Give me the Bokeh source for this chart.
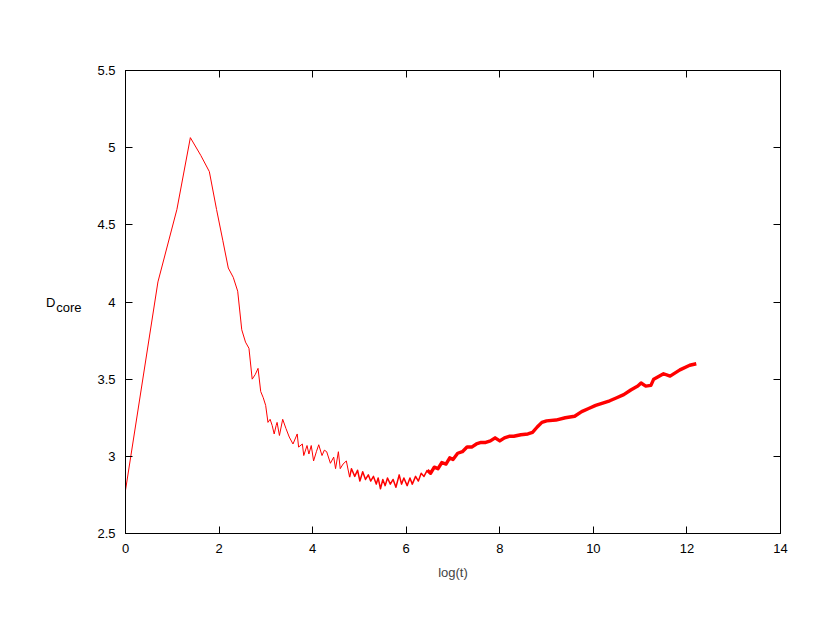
from bokeh.plotting import figure
from bokeh.models import LinearAxis, FixedTicker, Range1d, ColumnDataSource
from bokeh.embed import file_html
from bokeh.resources import INLINE

# log(t) values and D_core values
log_t = [0.0, 0.693, 1.099, 1.386, 1.609, 1.792, 1.946, 2.079, 2.197, 2.303,
         2.398, 2.485, 2.565, 2.639, 2.708, 2.773, 2.833, 2.890, 2.944, 2.996,
         3.045, 3.091, 3.135, 3.178, 3.22, 3.24, 3.29, 3.36, 3.43, 3.50,
         3.58, 3.67, 3.70, 3.78, 3.81, 3.88, 3.92, 3.97, 4.02, 4.08,
         4.13, 4.20, 4.25, 4.30, 4.38, 4.45, 4.49, 4.55, 4.59, 4.65,
         4.72, 4.79, 4.83, 4.90, 4.96, 5.01, 5.07, 5.13, 5.19, 5.24,
         5.30, 5.36, 5.40, 5.45, 5.50, 5.55, 5.60, 5.66, 5.72, 5.78,
         5.85, 5.90, 5.95, 6.02, 6.08, 6.13, 6.20, 6.26, 6.32, 6.38,
         6.45, 6.52, 6.60, 6.68, 6.76, 6.85, 6.93, 7.00, 7.10, 7.20,
         7.30, 7.40, 7.50, 7.60, 7.70, 7.80, 7.90, 8.00, 8.10, 8.20,
         8.30, 8.45, 8.60, 8.70, 8.80, 8.90, 9.00, 9.20, 9.40, 9.60,
         9.75, 9.90, 10.05, 10.20, 10.35, 10.50, 10.65, 10.80, 10.95, 11.02,
         11.12, 11.23, 11.29, 11.50, 11.64, 11.85, 12.06, 12.20]
d_core = [2.78, 4.13, 4.60, 5.065, 4.95, 4.845, 4.60, 4.40, 4.22, 4.16,
          4.07, 3.82, 3.74, 3.70, 3.50, 3.53, 3.57, 3.42, 3.38, 3.33,
          3.22, 3.24, 3.20, 3.145, 3.20, 3.22, 3.135, 3.24, 3.18, 3.125,
          3.08, 3.145, 3.06, 3.08, 3.005, 3.07, 3.015, 3.07, 2.97, 3.03,
          3.075, 3.005, 3.04, 3.03, 2.955, 2.995, 2.92, 3.03, 2.92, 2.95,
          2.97, 2.865, 2.92, 2.87, 2.91, 2.84, 2.90, 2.85, 2.88, 2.84,
          2.87, 2.82, 2.86, 2.79, 2.85, 2.81, 2.86, 2.82, 2.85, 2.80,
          2.88, 2.82, 2.86, 2.81, 2.86, 2.82, 2.87, 2.84, 2.89, 2.87,
          2.91, 2.89, 2.93, 2.92, 2.96, 2.95, 2.99, 2.98, 3.02, 3.03,
          3.06, 3.06, 3.08, 3.09, 3.09, 3.10, 3.12, 3.10, 3.12, 3.13,
          3.13, 3.14, 3.145, 3.155, 3.19, 3.22, 3.23, 3.235, 3.25, 3.26,
          3.29, 3.31, 3.33, 3.345, 3.36, 3.38, 3.40, 3.43, 3.455, 3.475,
          3.455, 3.46, 3.50, 3.535, 3.52, 3.56, 3.59, 3.60]

x_ticks = [0, 2, 4, 6, 8, 10, 12, 14]
y_ticks = [2.5, 3, 3.5, 4, 4.5, 5, 5.5]
y_tick_labels = ["2.5", "3", "3.5", "4", "4.5", "5", "5.5"]
y_title_main = "D"
y_title_sub = "core"

FONT = "Liberation Sans"

p = figure(frame_width=655, frame_height=463,
           x_range=Range1d(0, 14), y_range=Range1d(2.5, 5.5),
           output_backend="svg", toolbar_location=None,
           x_axis_location=None, y_axis_location=None,
           min_border_left=125, min_border_right=40,
           min_border_top=70, min_border_bottom=100)
p.xgrid.visible = False
p.ygrid.visible = False
p.outline_line_color = "black"
p.outline_line_width = 1
p.background_fill_color = "white"
p.border_fill_color = "white"

# Segments of increasing density drawn with increasing width
i1 = next(i for i, v in enumerate(log_t) if v >= 4.79)
i2 = next(i for i, v in enumerate(log_t) if v >= 6.45)
xs = [log_t[:i1 + 1], log_t[i1:i2 + 1], log_t[i2:]]
ys = [d_core[:i1 + 1], d_core[i1:i2 + 1], d_core[i2:]]
widths = [1.0, 1.5, 3.4]
src = ColumnDataSource(dict(xs=xs, ys=ys, w=widths))
p.multi_line("xs", "ys", source=src, line_color="#ff0000", line_width="w",
             line_join="round")


def style_axis(ax, labels=True):
    ax.major_tick_in = 7
    ax.major_tick_out = 0
    ax.minor_tick_in = 0
    ax.minor_tick_out = 0
    ax.major_tick_line_color = "black"
    ax.axis_line_color = "black"
    ax.major_label_text_font = FONT
    ax.major_label_text_font_size = "13px"
    ax.major_label_text_color = "black" if labels else None
    ax.axis_label_text_font = FONT
    ax.axis_label_text_font_style = "normal"
    ax.axis_label_text_font_size = "13px"
    if not labels:
        ax.major_label_standoff = 0


xb = LinearAxis(ticker=FixedTicker(ticks=x_ticks), axis_label="log(t)")
style_axis(xb)
xb.major_label_standoff = 10
xb.axis_label_standoff = 9
p.add_layout(xb, "below")

yl = LinearAxis(ticker=FixedTicker(ticks=y_ticks))
yl.major_label_overrides = {t: s for t, s in zip(y_ticks, y_tick_labels)}
style_axis(yl)
yl.major_label_standoff = 10
p.add_layout(yl, "left")


def title_axis(text, at, size, standoff):
    ax = LinearAxis(ticker=FixedTicker(ticks=[at]))
    ax.major_label_overrides = {at: text}
    ax.major_label_text_font = FONT
    ax.major_label_text_font_size = size
    ax.major_label_text_color = "black"
    ax.major_label_standoff = standoff
    ax.major_tick_in = 0
    ax.major_tick_out = 0
    ax.minor_tick_in = 0
    ax.minor_tick_out = 0
    ax.major_tick_line_color = None
    ax.minor_tick_line_color = None
    ax.axis_line_color = None
    return ax


# Y axis title "D" with subscript "core", as two label-only axes left of the ticks
p.add_layout(title_axis(y_title_sub, 3.964, "13px", 13), "left")
p.add_layout(title_axis(y_title_main, 4.0, "13px", -2), "left")

xt = LinearAxis(ticker=FixedTicker(ticks=x_ticks))
style_axis(xt, labels=False)
p.add_layout(xt, "above")

yr = LinearAxis(ticker=FixedTicker(ticks=y_ticks))
style_axis(yr, labels=False)
p.add_layout(yr, "right")

open("out.html", "w").write(file_html(p, INLINE))
